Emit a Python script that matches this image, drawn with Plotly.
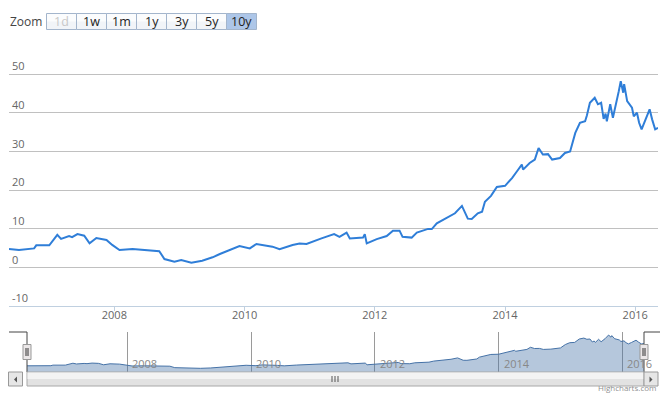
import plotly.graph_objects as go

W, H = 660, 394

dates = [
    "2006-05-20", "2006-07-15", "2006-10-08", "2006-10-20", "2007-01-01", "2007-02-15", "2007-03-08",
    "2007-04-22", "2007-05-09", "2007-06-08", "2007-07-16", "2007-08-15", "2007-09-22", "2007-11-18", "2007-12-20",
    "2008-01-30", "2008-04-12", "2008-06-28", "2008-09-09", "2008-10-08", "2008-12-03",
    "2009-01-10", "2009-03-08", "2009-05-08", "2009-07-05", "2009-08-15", "2009-10-26", "2009-12-03",
    "2010-01-30", "2010-03-08", "2010-06-06", "2010-07-16", "2010-09-27", "2010-11-05", "2010-12-14",
    "2011-02-09", "2011-03-08", "2011-05-18", "2011-06-17", "2011-07-27", "2011-08-14", "2011-10-27", "2011-11-06", "2011-11-17",
    "2012-01-12", "2012-03-08", "2012-04-12", "2012-05-19", "2012-06-05", "2012-07-26", "2012-08-24", "2012-10-26", "2012-11-16", "2012-12-14",
    "2013-01-30", "2013-03-26", "2013-05-04", "2013-05-19", "2013-06-06", "2013-06-28", "2013-08-01", "2013-08-25", "2013-09-10", "2013-10-14", "2013-11-16",
    "2014-01-01", "2014-02-09", "2014-03-08", "2014-04-05", "2014-04-12", "2014-05-19", "2014-06-17", "2014-07-08", "2014-08-01", "2014-08-30", "2014-09-22", "2014-11-05", "2014-12-03",
    "2015-01-01", "2015-01-30", "2015-02-25", "2015-03-26", "2015-04-05", "2015-04-22", "2015-05-19", "2015-06-06", "2015-06-24", "2015-07-08", "2015-07-19",
    "2015-07-26", "2015-08-14", "2015-08-29", "2015-09-21", "2015-10-01", "2015-10-12", "2015-10-26", "2015-10-31", "2015-11-17", "2015-12-14", "2015-12-24",
    "2016-01-11", "2016-01-23", "2016-02-06", "2016-02-25", "2016-03-22", "2016-04-05", "2016-04-22", "2016-05-08",
]

values = [
    4.75, 4.5, 4.9, 5.7, 5.7, 8.4, 7.35, 8.1, 7.8, 8.6, 8.2, 6.2, 7.6, 7.1, 5.8,
    4.5, 4.75, 4.5, 4.2, 2.15, 1.45,
    1.9, 1.2, 1.7, 2.6, 3.45, 4.7, 5.5,
    4.9, 6.05, 5.35, 4.7, 5.8, 6.2, 6.05,
    7.1, 7.5, 8.6, 7.9, 9.0, 7.5, 7.7, 8.6, 6.2,
    7.3, 8.1, 9.5, 9.5, 7.9, 7.7, 9.0, 9.95, 9.9, 11.4,
    12.5, 14.0, 15.9, 14.4, 12.6, 12.5, 14.0, 14.4, 17.0, 18.5, 20.8,
    21.1, 23.1, 24.8, 26.6, 25.3, 27.0, 27.9, 30.9, 29.2, 29.3, 27.9, 28.3, 29.6,
    30.0, 34.8, 37.4, 37.8, 39.3, 42.6, 43.9, 42.2, 42.6, 38.4, 39.8,
    37.8, 42.2, 38.7, 43.0, 45.6, 48.2, 45.2, 47.4, 43.0, 41.3, 39.1,
    40.0, 37.4, 35.7, 37.8, 40.9, 38.3, 35.7, 36.1,
]

y_ticks = [-10, 0, 10, 20, 30, 40, 50, 60]
y_tick_labels = ["-10", "0", "10", "20", "30", "40", "50", ""]
year_ticks = ["2008-01-01", "2010-01-01", "2012-01-01", "2014-01-01", "2016-01-01"]
year_labels = ["2008", "2010", "2012", "2014", "2016"]
zoom_buttons = ["1d", "1w", "1m", "1y", "3y", "5y", "10y"]
selected_button = "10y"
nav_range = [-4, 52.5]

FONT = "Open Sans, DejaVu Sans, sans-serif"


def X(p):
    return p / W


def Y(p):
    return 1 - p / H


fig = go.Figure()

fig.add_trace(go.Scatter(
    x=dates, y=values, mode="lines",
    line=dict(color="#2f7ed8", width=2),
    xaxis="x", yaxis="y", hoverinfo="skip", showlegend=False,
))

# navigator
fig.add_trace(go.Scatter(
    x=[dates[0], dates[-1]], y=[nav_range[0], nav_range[0]], mode="lines",
    line=dict(width=0, color="rgba(0,0,0,0)"),
    xaxis="x2", yaxis="y2", hoverinfo="skip", showlegend=False,
))
fig.add_trace(go.Scatter(
    x=dates, y=values, mode="lines", fill="tonexty",
    fillcolor="rgba(69,114,167,0.4)",
    line=dict(color="#4572A7", width=1),
    xaxis="x2", yaxis="y2", hoverinfo="skip", showlegend=False,
))

shapes = []
annotations = []

# zoom label and buttons
annotations.append(dict(x=X(8), y=Y(21.5), xref="paper", yref="paper", text="Zoom",
                        showarrow=False, xanchor="left", yanchor="middle",
                        font=dict(family=FONT, size=12, color="#444")))
bx0 = 46.5
for i, lab in enumerate(zoom_buttons):
    x0 = bx0 + 30 * i
    x1 = x0 + 30
    sel = lab == selected_button
    fill = "#adc6e8" if sel else "#f1f4f8"
    shapes.append(dict(type="rect", xref="paper", yref="paper",
                       x0=X(x0), x1=X(x1), y0=Y(29.5), y1=Y(13.5),
                       fillcolor=fill, line=dict(color="#a3b5cc", width=1), layer="above"))
    if not sel:
        shapes.append(dict(type="rect", xref="paper", yref="paper",
                           x0=X(x0 + 0.5), x1=X(x1 - 0.5), y0=Y(21.5), y1=Y(14),
                           fillcolor="#fbfcfd", line=dict(width=0), layer="above"))
    color = "#c8c8c8" if lab == "1d" else "#222"
    annotations.append(dict(x=X((x0 + x1) / 2), y=Y(21.5), xref="paper", yref="paper",
                            text=lab, showarrow=False, xanchor="center", yanchor="middle",
                            font=dict(family=FONT, size=12.5, color=color)))

# navigator year labels
for d, lab in zip(year_ticks, year_labels):
    annotations.append(dict(x=d, xref="x2", y=Y(363), yref="paper", text=lab,
                            showarrow=False, xanchor="left", yanchor="middle", xshift=3,
                            font=dict(family=FONT, size=11, color="#888")))

# navigator outline
line_c = "#444"
shapes.append(dict(type="path", xref="paper", yref="paper",
                   path=f"M {X(9)},{Y(332)} L {X(27)},{Y(332)} L {X(27)},{Y(372)}",
                   line=dict(color=line_c, width=1), layer="above"))
shapes.append(dict(type="path", xref="paper", yref="paper",
                   path=f"M {X(644)},{Y(372)} L {X(644)},{Y(332)} L {X(660)},{Y(332)}",
                   line=dict(color=line_c, width=1), layer="above"))

# scrollbar
sb_top, sb_bot = 372, 386
shapes.append(dict(type="rect", xref="paper", yref="paper", x0=X(27), x1=X(644),
                   y0=Y(sb_bot), y1=Y(sb_top), fillcolor="#e2e2e2",
                   line=dict(color="#a8a8a8", width=1), layer="above"))
shapes.append(dict(type="rect", xref="paper", yref="paper", x0=X(27.5), x1=X(643.5),
                   y0=Y(379), y1=Y(sb_top + 0.5), fillcolor="#f3f3f3",
                   line=dict(width=0), layer="above"))
for rx in (332, 335, 338):
    shapes.append(dict(type="line", xref="paper", yref="paper", x0=X(rx), x1=X(rx),
                       y0=Y(376), y1=Y(382), line=dict(color="#555", width=1), layer="above"))
for (a, b, direction) in ((8.5, 22.5, "left"), (644, 658, "right")):
    shapes.append(dict(type="rect", xref="paper", yref="paper", x0=X(a), x1=X(b),
                       y0=Y(sb_bot), y1=Y(sb_top), fillcolor="#e6e6e6",
                       line=dict(color="#999", width=1), layer="above"))
    cx = (a + b) / 2
    if direction == "left":
        p = f"M {X(cx + 1.5)},{Y(376.5)} L {X(cx + 1.5)},{Y(382.5)} L {X(cx - 1.5)},{Y(379.5)} Z"
    else:
        p = f"M {X(cx - 1.5)},{Y(376.5)} L {X(cx - 1.5)},{Y(382.5)} L {X(cx + 1.5)},{Y(379.5)} Z"
    shapes.append(dict(type="path", xref="paper", yref="paper", path=p,
                       fillcolor="#555", line=dict(width=0), layer="above"))

# navigator handles
for hx in (27, 644):
    shapes.append(dict(type="rect", xref="paper", yref="paper", x0=X(hx - 4), x1=X(hx + 4),
                       y0=Y(359.5), y1=Y(344.5), fillcolor="#ebe7e8",
                       line=dict(color="#999", width=1), layer="above"))
    for lx in (hx - 1, hx + 1):
        shapes.append(dict(type="line", xref="paper", yref="paper", x0=X(lx), x1=X(lx),
                           y0=Y(348), y1=Y(356), line=dict(color="#333", width=1), layer="above"))

# credits
annotations.append(dict(x=X(657), y=0, xref="paper", yref="paper", text="Highcharts.com",
                        showarrow=False, xanchor="right", yanchor="bottom", borderpad=0,
                        font=dict(family=FONT, size=8, color="#909090")))

fig.update_layout(
    width=W, height=H,
    margin=dict(l=0, r=0, t=0, b=0),
    paper_bgcolor="white", plot_bgcolor="white",
    font=dict(family=FONT, size=11, color="#666"),
    showlegend=False,
    xaxis=dict(
        domain=[X(9), X(658)], range=[dates[0], dates[-1]], anchor="y",
        type="date", tickvals=year_ticks, ticktext=year_labels,
        showgrid=False, zeroline=False,
        showline=True, linecolor="#C0D0E0", linewidth=1,
        ticks="outside", ticklen=4, tickcolor="#C0D0E0",
        ticklabelstandoff=-5,
        tickfont=dict(family=FONT, size=11, color="#666"),
        fixedrange=True,
    ),
    yaxis=dict(
        domain=[Y(306), Y(35.5)], range=[-10, 60], anchor="x",
        tickvals=y_ticks, ticktext=y_tick_labels,
        showgrid=True, gridcolor="#C0C0C0", gridwidth=1, zeroline=False,
        ticks="", ticklabelposition="inside top",
        tickfont=dict(family=FONT, size=11, color="#666"),
        fixedrange=True,
    ),
    xaxis2=dict(
        domain=[X(27), X(644)], range=[dates[0], dates[-1]], anchor="y2",
        type="date", tickvals=year_ticks, showticklabels=False,
        showgrid=True, gridcolor="#9a9a9a", gridwidth=1, zeroline=False,
        showline=False, ticks="", fixedrange=True,
    ),
    yaxis2=dict(
        domain=[Y(372), Y(332)], range=nav_range, anchor="x2",
        visible=False, showgrid=False, zeroline=False, fixedrange=True,
    ),
    shapes=shapes,
    annotations=annotations,
)

fig.write_html(
    "out.html",
    config={"displayModeBar": False},
    post_script="document.body.style.margin='0';document.body.style.padding='0';document.body.style.overflow='hidden';",
)
